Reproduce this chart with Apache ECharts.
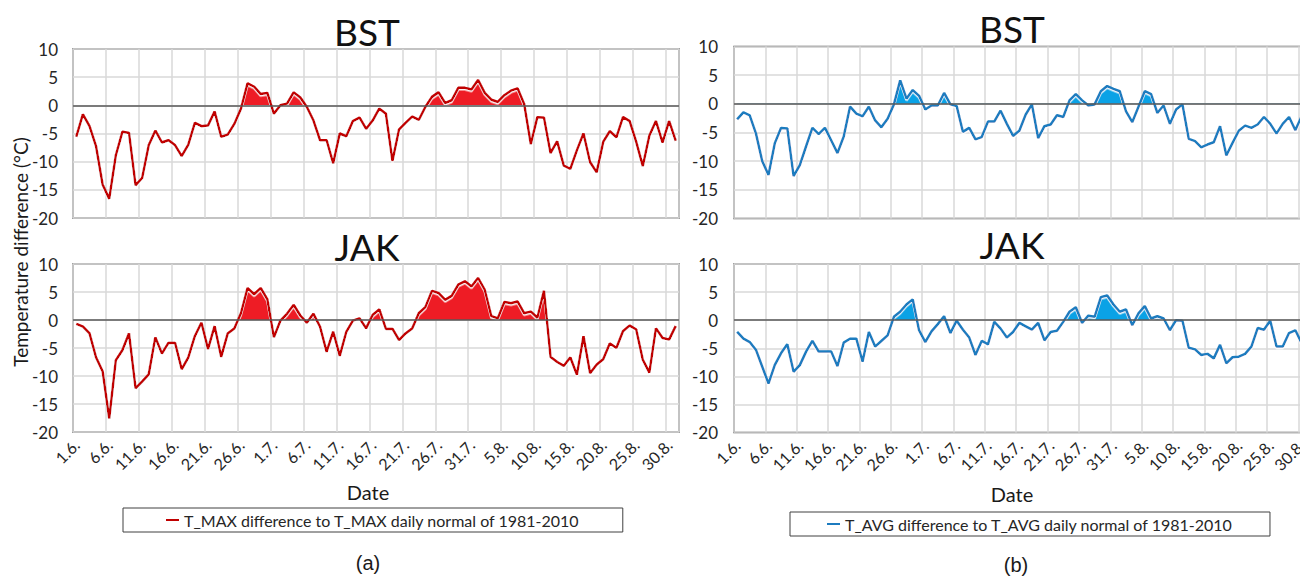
<!DOCTYPE html>
<html>
<head>
<meta charset="utf-8">
<script src="https://cdn.jsdelivr.net/npm/echarts@6/dist/echarts.min.js"></script>
<style>
  html, body { margin: 0; padding: 0; background: #fff; }
  #chart { width: 1300px; height: 578px; }
</style>
</head>
<body>
<div id="chart"></div>
<script>
// Summer days 1.6. – 31.8.
const months = [['6', 30], ['7', 31], ['8', 31]];
const dates = [];
months.forEach(([m, n]) => { for (let d = 1; d <= n; d++) dates.push(d + '.' + m + '.'); });

// Y axis ticks (°C)
const yTicks = { min: -20, max: 10, step: 5 };

// T_MAX difference to the 1981-2010 daily normal (°C)
const bstMax = [
  -5.6, -1.6, -3.7, -7.3, -14.1, -16.6, -8.9, -4.7, -4.9, -14.2,
  -12.9, -7.1, -4.5, -6.6, -6.2, -7.1, -9.0, -7.0, -3.1, -3.7,
  -3.6, -1.1, -5.6, -5.2, -3.3, -0.6, 3.9, 3.3, 2.0, 2.2,
  -1.5, 0.0, 0.3, 2.3, 1.4, -0.3, -2.7, -6.2, -6.2, -10.3,
  -5.0, -5.5, -2.8, -2.2, -4.2, -2.7, -0.6, -1.5, -9.9, -4.3,
  -3.1, -2.0, -2.6, -0.3, 1.5, 2.3, 0.4, 0.9, 3.1, 3.1,
  2.8, 4.5, 2.2, 1.0, 0.6, 1.8, 2.6, 3.0, 0.2, -6.9,
  -2.1, -2.2, -8.5, -6.4, -10.7, -11.3, -8.0, -5.0, -10.1, -11.9,
  -6.5, -4.6, -5.7, -2.1, -2.8, -6.5, -10.8, -5.4, -2.8, -6.6,
  -2.8, -6.3
];
const jakMax = [
  -0.7, -1.2, -2.4, -6.7, -9.2, -17.6, -7.2, -5.4, -2.4, -12.2,
  -11.0, -9.7, -3.1, -6.0, -4.1, -4.1, -8.8, -6.7, -2.9, -0.5,
  -5.2, -1.1, -6.6, -2.4, -1.5, 1.2, 5.7, 4.6, 5.7, 3.7,
  -3.1, -0.1, 1.1, 2.7, 0.8, -0.5, 1.1, -1.2, -5.7, -2.1,
  -6.4, -2.1, -0.1, 0.3, -1.5, 0.9, 1.9, -1.6, -1.6, -3.6,
  -2.4, -1.5, 1.2, 2.3, 5.2, 4.8, 3.6, 4.3, 6.3, 6.9,
  6.0, 7.5, 5.4, 0.7, 0.3, 3.2, 3.0, 3.3, 1.2, 1.5,
  0.4, 5.2, -6.6, -7.5, -8.2, -6.7, -9.8, -2.9, -9.5, -8.0,
  -7.0, -4.2, -5.0, -2.0, -1.0, -1.7, -7.1, -9.4, -1.5, -3.2,
  -3.5, -1.1
];

// T_AVG difference to the 1981-2010 daily normal (°C)
const bstAvg = [
  -2.7, -1.5, -2.0, -5.2, -10.0, -12.4, -6.9, -4.2, -4.3, -12.6,
  -10.7, -7.4, -4.2, -5.3, -4.2, -6.4, -8.6, -5.7, -0.5, -1.7,
  -2.2, -0.5, -2.9, -4.1, -2.6, -0.1, 4.1, 0.9, 2.4, 1.4,
  -1.0, -0.3, -0.3, 1.9, -0.1, -0.4, -4.9, -4.2, -6.2, -5.8,
  -3.1, -3.1, -1.2, -3.5, -5.6, -4.7, -1.9, -0.1, -6.0, -3.9,
  -3.6, -2.0, -2.3, 0.6, 1.7, 0.6, -0.3, -0.1, 2.2, 3.1,
  2.6, 2.2, -1.3, -3.2, -0.5, 2.2, 1.7, -1.6, -0.3, -3.5,
  -1.0, -0.1, -6.1, -6.5, -7.6, -7.1, -6.7, -3.9, -9.0, -6.8,
  -4.7, -3.8, -4.2, -3.6, -2.3, -3.5, -5.2, -3.5, -2.3, -4.6,
  -2.2, -1.5
];
const jakAvg = [
  -2.1, -3.3, -3.9, -5.3, -8.3, -11.3, -8.0, -5.9, -4.3, -9.2,
  -8.0, -5.6, -3.7, -5.6, -5.6, -5.6, -8.2, -4.0, -3.3, -3.3,
  -7.4, -2.1, -4.7, -3.7, -2.7, 0.6, 1.5, 2.8, 3.7, -1.8,
  -3.9, -2.0, -0.7, 0.7, -2.3, -0.1, -1.7, -3.1, -6.2, -3.7,
  -4.3, -0.3, -1.5, -3.1, -2.1, -0.5, -1.1, -1.7, -0.5, -3.6,
  -2.1, -1.9, -0.3, 1.5, 2.3, -0.5, 0.8, 0.6, 4.1, 4.4,
  2.8, 1.5, 1.9, -0.9, 1.2, 2.5, 0.3, 0.7, 0.3, -1.8,
  0.0, -0.1, -4.9, -5.2, -6.2, -6.0, -6.8, -4.4, -7.7, -6.6,
  -6.5, -6.0, -4.7, -1.4, -1.7, -0.1, -4.7, -4.7, -2.3, -1.8,
  -4.1, -4.0
];

const nameMax = 'T_MAX difference to T_MAX daily normal of 1981-2010';
const nameAvg = 'T_AVG difference to T_AVG daily normal of 1981-2010';

const FONT = 'Lato, "Open Sans", sans-serif';
const AXIS_TEXT = '#262626';
const GRID_LINE = '#D9D9D9';
const FRAME = '#595959';
const RED_LINE = '#C00000', RED_FILL = '#EE1C25';
const BLUE_LINE = '#1C7BBF', BLUE_FILL = '#0AA2E6';
const CLEAR = 'rgba(255,255,255,0)';

// four plot panels: (a) left column, (b) right column
const panels = [
  { left: 73,  top: 49,   width: 606, height: 169,   data: bstMax, name: nameMax, line: RED_LINE },
  { left: 73,  top: 264,  width: 606, height: 168,   data: jakMax, name: nameMax, line: RED_LINE },
  { left: 734, top: 46.5, width: 577, height: 172,   data: bstAvg, name: nameAvg, line: BLUE_LINE },
  { left: 734, top: 264,  width: 577, height: 168.5, data: jakAvg, name: nameAvg, line: BLUE_LINE }
];

const grid = panels.map(p => ({
  left: p.left, top: p.top, width: p.width, height: p.height,
  show: true, borderColor: FRAME, borderWidth: 1.5, backgroundColor: 'transparent',
  containLabel: false, outerBoundsMode: 'none'
}));

const xAxis = panels.map((p, i) => ({
  type: 'category', gridIndex: i, data: dates, boundaryGap: true,
  axisLine: { show: false }, axisTick: { show: false },
  axisLabel: {
    show: i % 2 === 1, interval: 4, rotate: 45, margin: 10,
    fontSize: 16, color: AXIS_TEXT, fontFamily: FONT
  },
  splitLine: { show: true, interval: 4, lineStyle: { color: GRID_LINE, width: 1.5 } }
}));

const yAxis = panels.map((p, i) => ({
  type: 'value', gridIndex: i, min: yTicks.min, max: yTicks.max, interval: yTicks.step,
  axisLine: { show: false }, axisTick: { show: false },
  axisLabel: { fontSize: 17, color: AXIS_TEXT, fontFamily: FONT, margin: i < 2 ? 15 : 16 },
  splitLine: { lineStyle: { color: GRID_LINE, width: 1.5 } }
}));

const series = [];
panels.forEach((p, i) => {
  // filled part above the normal
  series.push({
    type: 'line', name: p.name + ' (above)', xAxisIndex: i, yAxisIndex: i,
    data: p.data, symbol: 'none', silent: true, z: 2,
    lineStyle: { width: 0 },
    areaStyle: { opacity: 1 },
    markLine: {
      silent: true, symbol: 'none', label: { show: false },
      lineStyle: { color: FRAME, width: 1.5, type: 'solid' },
      data: [{ yAxis: 0 }]
    }
  });
  // anomaly curve
  series.push({
    type: 'line', name: p.name, xAxisIndex: i, yAxisIndex: i,
    data: p.data, symbol: 'none', silent: true, z: 3,
    itemStyle: { color: p.line },
    lineStyle: {
      color: p.line, width: 2.5,
      shadowColor: 'rgba(255,255,255,0.95)', shadowBlur: 0, shadowOffsetY: 1.5
    }
  });
});

// colour the area only where the anomaly is positive
const fillPieces = color => [
  { gte: yTicks.min, lte: 0, color: CLEAR },
  { gt: 0, lte: yTicks.max, color: color }
];

const legendBase = {
  orient: 'horizontal', icon: 'rect', itemWidth: 13, itemHeight: 2, itemGap: 0,
  borderColor: '#404040', borderWidth: 1, selectedMode: false,
  textStyle: { fontSize: 16, color: AXIS_TEXT, fontFamily: FONT }
};

const text = (str, x, y, font, fill, extra) => Object.assign({
  type: 'text', x: x, y: y, silent: true,
  style: { text: str, font: font, fill: fill, align: 'center', verticalAlign: 'middle' }
}, extra || {});

const option = {
  backgroundColor: '#fff',
  animation: false,
  grid, xAxis, yAxis, series,
  visualMap: [
    { type: 'piecewise', show: false, seriesIndex: [0, 2], dimension: 1,
      pieces: fillPieces(RED_FILL), outOfRange: { color: CLEAR } },
    { type: 'piecewise', show: false, seriesIndex: [4, 6], dimension: 1,
      pieces: fillPieces(BLUE_FILL), outOfRange: { color: CLEAR } }
  ],
  legend: [
    Object.assign({}, legendBase, { data: [nameMax], left: 123, top: 508, padding: [4, 43, 4, 43] }),
    Object.assign({}, legendBase, { data: [nameAvg], left: 790, top: 512, padding: [4, 37, 4, 37] })
  ],
  graphic: [
    text('BST', 367, 31, '37px ' + FONT, '#111'),
    text('JAK', 367, 246, '37px ' + FONT, '#111'),
    text('BST', 1012, 28, '37px ' + FONT, '#111'),
    text('JAK', 1012, 244, '37px ' + FONT, '#111'),
    text('Temperature difference (°C)', 20, 252, '19px ' + FONT, '#1a1a1a', { rotation: Math.PI / 2 }),
    text('Date', 368, 492, '20px ' + FONT, '#1a1a1a'),
    text('Date', 1012, 494, '20px ' + FONT, '#1a1a1a'),
    text('(a)', 368, 563, '20px "Liberation Sans", Arial, sans-serif', '#1a1a1a'),
    text('(b)', 1016, 565, '20px "Liberation Sans", Arial, sans-serif', '#1a1a1a')
  ]
};

const chart = echarts.init(document.getElementById('chart'), null, { renderer: 'svg' });
chart.setOption(option);
</script>
</body>
</html>
